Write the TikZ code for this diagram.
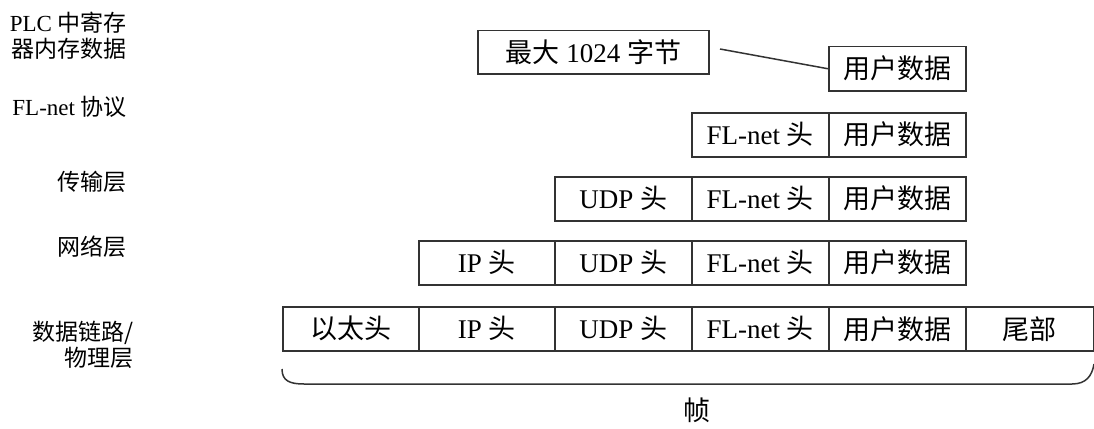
\documentclass[tikz,border=0pt]{standalone}
\usepackage{fontspec}
\setmainfont{Liberation Serif}
\newfontfamily\cjkf{Noto Sans CJK SC}
\newcommand\zhs[1]{{\cjkf #1}}
\definecolor{lc}{HTML}{333333}
\begin{document}
\begin{tikzpicture}[x=1pt,y=-1pt,
  cell/.style={draw=lc, line width=1.5pt, minimum height=44pt, inner sep=0pt,
    font=\fontsize{27}{30}\selectfont, anchor=north west},
  lbl/.style={font=\fontsize{23}{26}\selectfont, align=right, anchor=east, inner sep=0pt},
  conn/.style={draw=lc, line width=1.5pt}]
\useasboundingbox (0,0) rectangle (1094,428);

% left labels
\node[lbl] (l0) at (127,36) {PLC \zhs{中寄存}\\\zhs{器内存数据}};
\node[lbl] (l1) at (127,107) {FL-net \zhs{协议}};
\node[lbl] (l2) at (127,182) {\zhs{传输层}};
\node[lbl] (l3) at (127,247) {\zhs{网络层}};
\node[lbl] (l4) at (134,345) {\zhs{数据链路/}\\\zhs{物理层}};

% row 0
\node[cell, minimum width=231pt, minimum height=43pt] (max) at (477,30) {\zhs{最大} 1024 \zhs{字节}};
\node[cell, minimum width=137pt] (ud0) at (828,46) {\zhs{用户数据}};
\coordinate (ls) at (720,49);
\draw[conn] (ls) -- (ud0.west);

% row 1
\node[cell, minimum width=137pt] (fl1) at (691,112) {FL-net \zhs{头}};
\node[cell, minimum width=137pt] (ud1) at (828,112) {\zhs{用户数据}};

% row 2
\node[cell, minimum width=137pt] (udp2) at (554,176) {UDP \zhs{头}};
\node[cell, minimum width=137pt] (fl2) at (691,176) {FL-net \zhs{头}};
\node[cell, minimum width=137pt] (ud2) at (828,176) {\zhs{用户数据}};

% row 3
\node[cell, minimum width=136pt] (ip3) at (418,240) {IP \zhs{头}};
\node[cell, minimum width=137pt] (udp3) at (554,240) {UDP \zhs{头}};
\node[cell, minimum width=137pt] (fl3) at (691,240) {FL-net \zhs{头}};
\node[cell, minimum width=137pt] (ud3) at (828,240) {\zhs{用户数据}};

% row 4
\node[cell, minimum width=136pt] (eth4) at (282,306) {\zhs{以太头}};
\node[cell, minimum width=136pt] (ip4) at (418,306) {IP \zhs{头}};
\node[cell, minimum width=137pt] (udp4) at (554,306) {UDP \zhs{头}};
\node[cell, minimum width=137pt] (fl4) at (691,306) {FL-net \zhs{头}};
\node[cell, minimum width=137pt] (ud4) at (828,306) {\zhs{用户数据}};
\node[cell, minimum width=128pt] (tr4) at (965,306) {\zhs{尾部}};

% brace
\draw[conn] (282,369) .. controls (282,381) and (290,384) .. (304,384)
  -- (1072,384) .. controls (1086,384) and (1092,376) .. (1094,364);
\node[font=\fontsize{27}{30}\selectfont, inner sep=0pt] (frame) at (697,410) {\zhs{帧}};
\end{tikzpicture}
\end{document}
